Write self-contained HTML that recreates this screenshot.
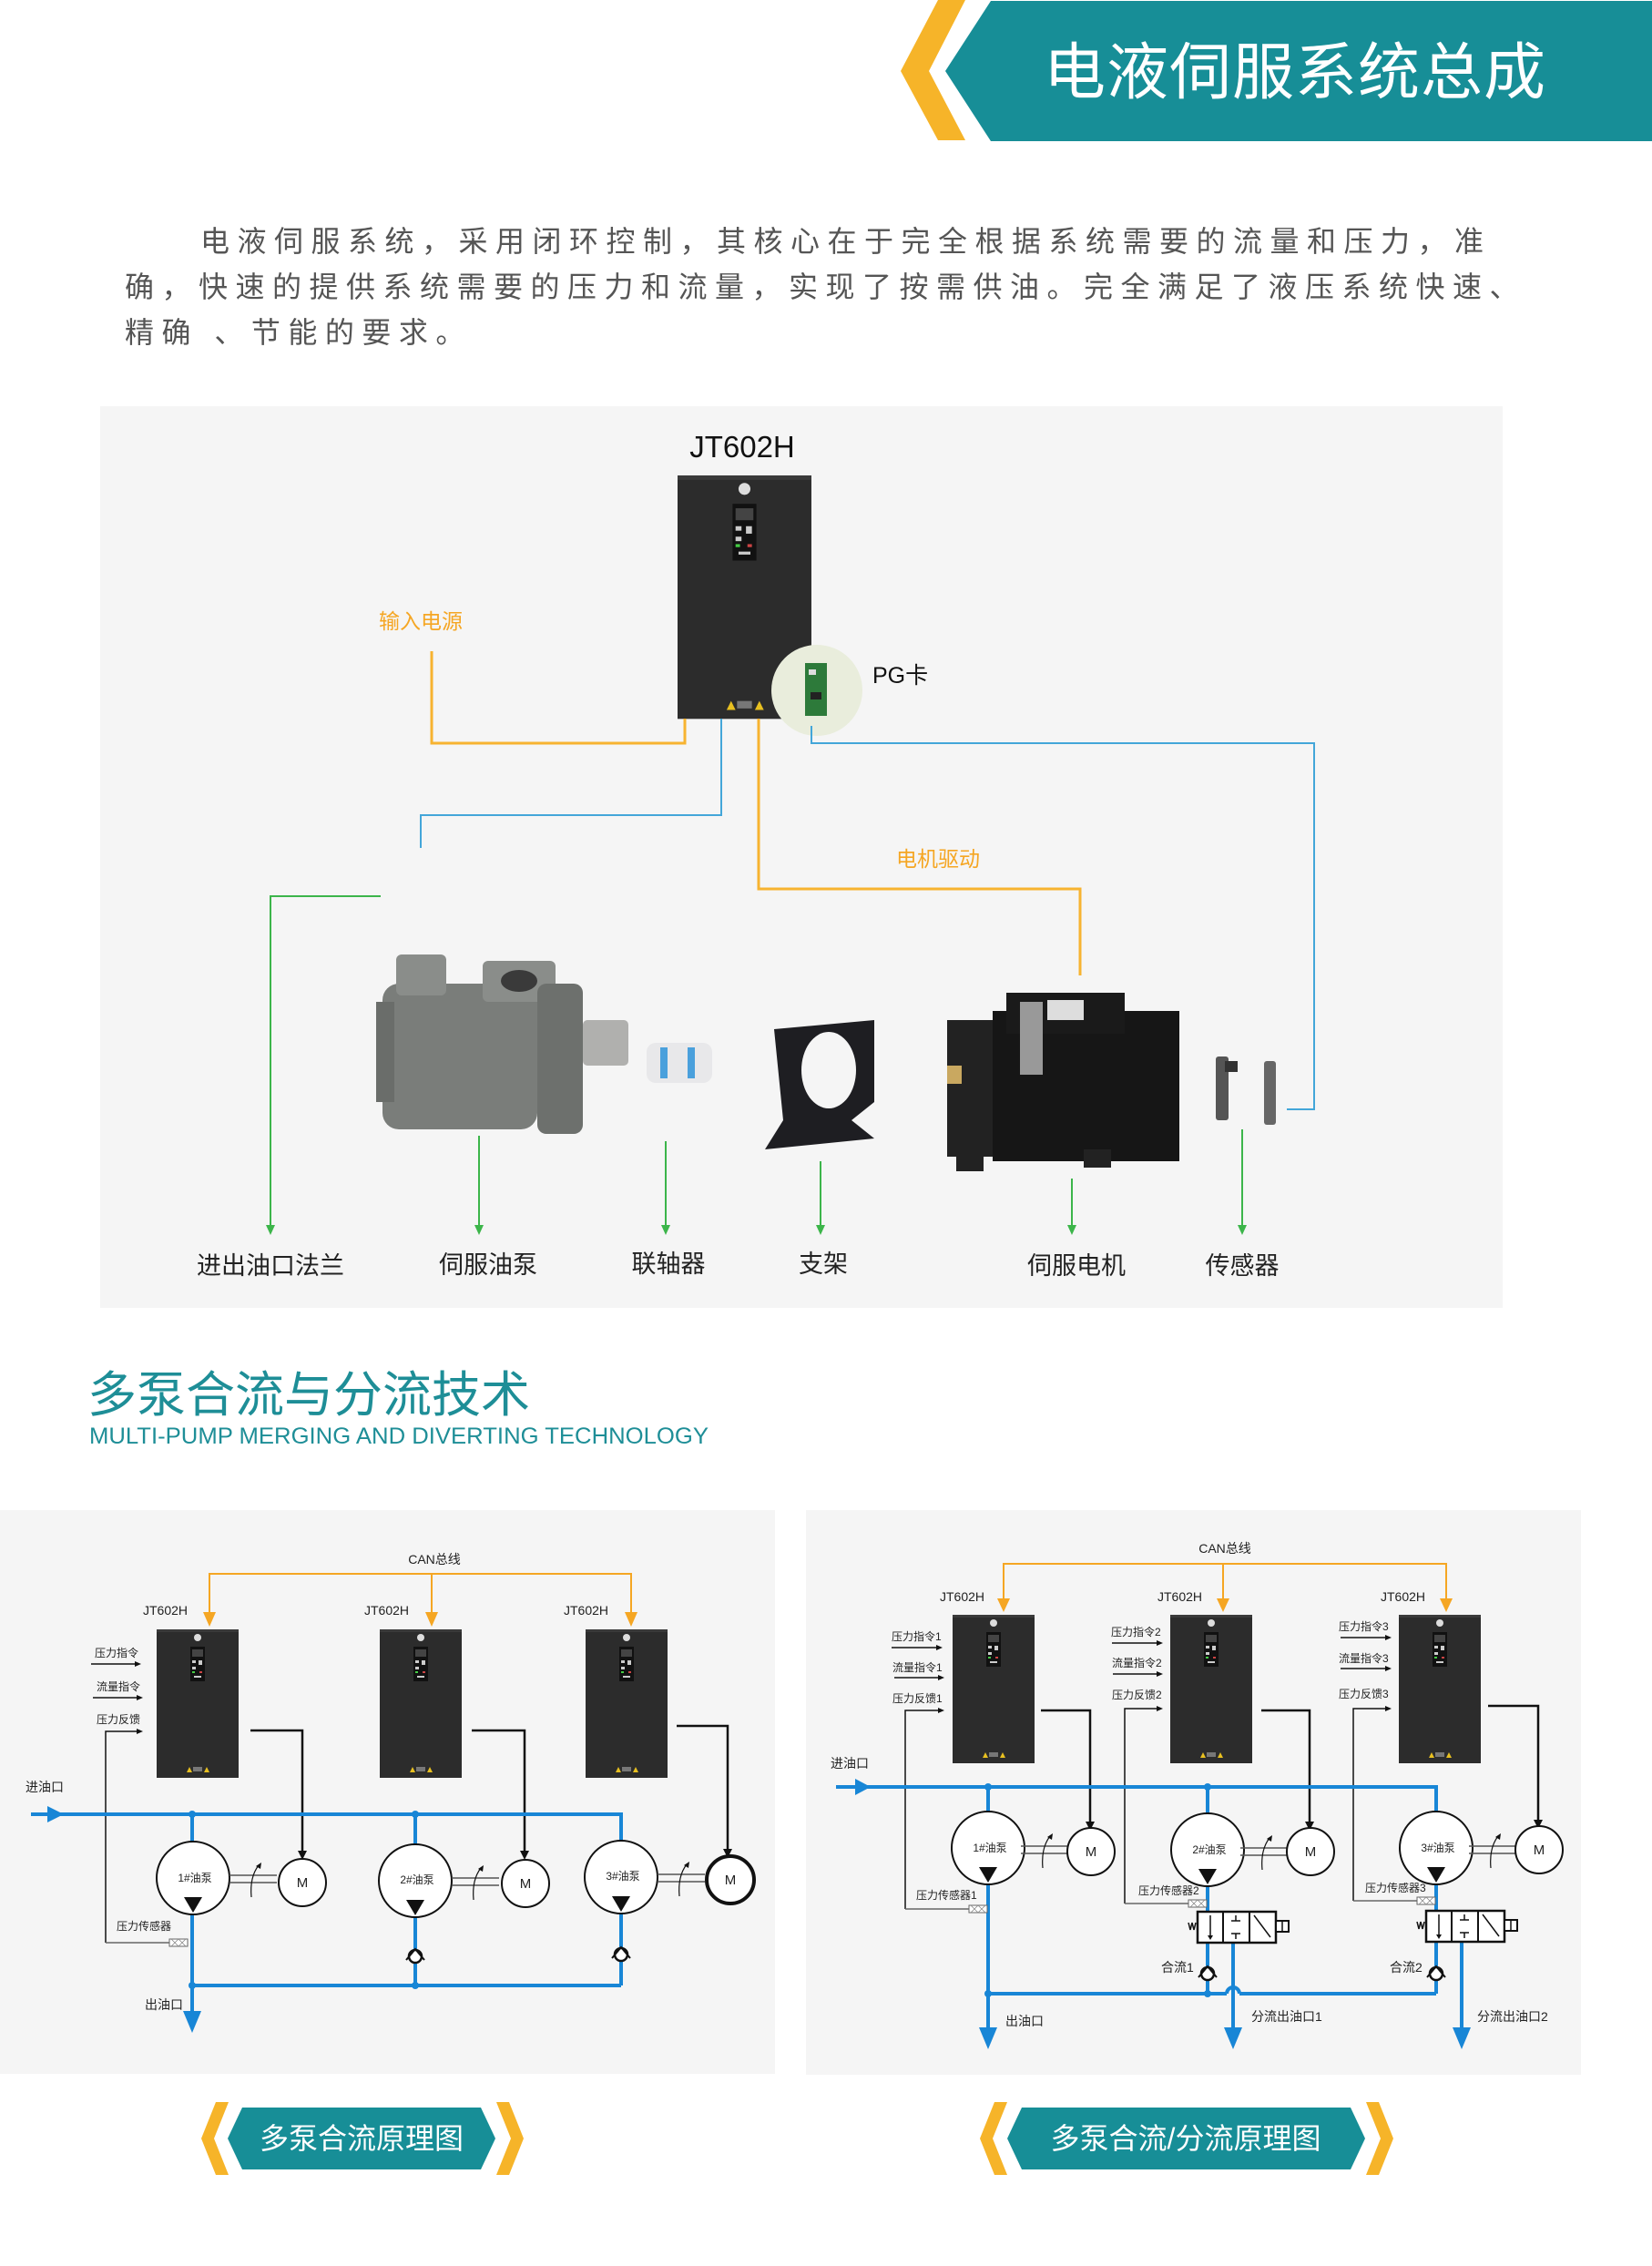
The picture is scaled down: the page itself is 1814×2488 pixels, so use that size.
<!DOCTYPE html>
<html><head><meta charset="utf-8"><style>
html,body{margin:0;padding:0;background:#fff;}
svg{display:block}
text{font-family:"Liberation Sans","Noto Sans CJK SC",sans-serif}
</style></head><body>
<svg width="1814" height="2488" viewBox="0 0 1814 2488" xmlns="http://www.w3.org/2000/svg">
<defs>
<g id="drv">
<rect x="0" y="0" width="90" height="163" fill="#2c2c2c"/>
<rect x="0" y="0" width="90" height="3" fill="#3a3a3a"/>
<circle cx="45" cy="9" r="4" fill="#ddd"/>
<rect x="37" y="19" width="16" height="38" fill="#111"/>
<rect x="39" y="22" width="12" height="8" fill="#444"/>
<rect x="39" y="34" width="4" height="3" fill="#ccc"/><rect x="46" y="34" width="4" height="5" fill="#ccc"/>
<rect x="39" y="41" width="4" height="3" fill="#ccc"/><rect x="39" y="46" width="3" height="2" fill="#4c4"/><rect x="47" y="46" width="3" height="2" fill="#c44"/>
<rect x="41" y="51" width="8" height="2" fill="#ccc"/>
<polygon points="33,157 36,151 39,157" fill="#e8c020"/><polygon points="52,157 55,151 58,157" fill="#e8c020"/>
<rect x="40" y="151" width="10" height="5" fill="#777"/>
</g>
<g id="pump">
<circle cx="0" cy="0" r="40" fill="#fff" stroke="#111" stroke-width="2"/>
<polygon points="-10,21 10,21 0,38" fill="#111"/>
</g>
<g id="mot">
<circle cx="0" cy="0" r="26" fill="#fff" stroke="#111" stroke-width="2"/>
</g>
<g id="shaft">
<line x1="0" y1="-4" x2="52" y2="-4" stroke="#555" stroke-width="1.5"/>
<line x1="0" y1="4" x2="52" y2="4" stroke="#555" stroke-width="1.5"/>
<path d="M24 20 Q22 -2 32 -15" fill="none" stroke="#111" stroke-width="1.2"/>
<polygon points="29,-14 35,-18 34,-11" fill="#111"/>
</g>
<g id="chk">
<circle cx="0" cy="0" r="7" fill="#fff" stroke="#111" stroke-width="2.5"/>
<path d="M-10 4 L0 -8 L10 4" fill="none" stroke="#111" stroke-width="2"/>
</g>
<g id="sens">
<rect x="0" y="-4" width="20" height="8" fill="#fff" stroke="#666" stroke-width="1"/>
<path d="M2 -4 L10 4 M10 -4 L2 4 M10 -4 L18 4 M18 -4 L10 4" stroke="#888" stroke-width="0.8"/>
</g>
<g id="valve">
<rect x="0" y="0" width="86" height="34" fill="#fff" stroke="#111" stroke-width="2.5"/>
<line x1="28" y1="0" x2="28" y2="34" stroke="#111" stroke-width="2"/>
<line x1="57" y1="0" x2="57" y2="34" stroke="#111" stroke-width="2"/>
<line x1="14" y1="4" x2="14" y2="28" stroke="#111" stroke-width="1.5"/><polygon points="11,26 17,26 14,31" fill="#111"/>
<path d="M37 10 H47 M42 4 V10 M37 24 H47 M42 24 V30" stroke="#111" stroke-width="1.5"/>
<line x1="62" y1="4" x2="80" y2="28" stroke="#111" stroke-width="1.5"/>
<path d="M-10 12 l2 8 l2 -8 l2 8 l2 -8" fill="none" stroke="#111" stroke-width="1.5"/>
<rect x="86" y="10" width="14" height="12" fill="#fff" stroke="#111" stroke-width="2"/>
<line x1="93" y1="10" x2="93" y2="22" stroke="#111" stroke-width="1.5"/>
</g>
</defs>

<!-- header -->
<polygon points="1030,0 1060,0 1020,78 1060,154 1030,154 989,78" fill="#f6b429"/>
<polygon points="1088,1 1814,1 1814,155 1088,155 1038,78" fill="#178e97"/>
<text x="1146" y="103" font-size="68" fill="#fff" letter-spacing="1">电液伺服系统总成</text>

<!-- paragraph -->
<g font-size="32" fill="#555" letter-spacing="8.5">
<text x="220" y="276">电液伺服系统，采用闭环控制，其核心在于完全根据系统需要的流量和压力，准</text>
<text x="137" y="326">确，快速的提供系统需要的压力和流量，实现了按需供油。完全满足了液压系统快速、</text>
<text x="137" y="376">精确 、节能的要求。</text>
</g>

<!-- panel 1 -->
<rect x="110" y="446" width="1540" height="990" fill="#f5f5f5"/>
<text x="815" y="502" font-size="33" fill="#111" text-anchor="middle">JT602H</text>
<use href="#drv" transform="translate(744,522) scale(1.633,1.64)"/>
<circle cx="897" cy="758" r="50" fill="#e9eddc"/>
<rect x="884" y="728" width="24" height="58" fill="#2d7a3a"/>
<rect x="888" y="735" width="8" height="6" fill="#ddd"/><rect x="890" y="760" width="12" height="8" fill="#222"/>
<text x="958" y="750" font-size="25" fill="#111">PG卡</text>
<text x="416" y="690" font-size="23" fill="#f5a623">输入电源</text>
<text x="984" y="951" font-size="23" fill="#f5a623">电机驱动</text>
<g fill="none" stroke-width="3">
<path d="M474 715 V816 H752 V789" stroke="#f7b330"/>
<path d="M833 789 V976 H1186 V1071" stroke="#f7b330"/>
</g>
<g fill="none" stroke="#43a6d9" stroke-width="2">
<path d="M792 789 V895 H462 V931"/>
<path d="M891 797 V816 H1443 V1218 H1413"/>
</g>
<g fill="none" stroke="#3cb54a" stroke-width="2">
<path d="M418 984 H297 V1348"/>
<path d="M526 1247 V1348 M731 1253 V1348 M901 1275 V1348 M1177 1294 V1348 M1364 1240 V1348"/>
</g>
<g fill="#3cb54a">
<polygon points="292,1345 302,1345 297,1356"/><polygon points="521,1345 531,1345 526,1356"/><polygon points="726,1345 736,1345 731,1356"/>
<polygon points="896,1345 906,1345 901,1356"/><polygon points="1172,1345 1182,1345 1177,1356"/><polygon points="1359,1345 1369,1345 1364,1356"/>
</g>
<!-- product pictures -->
<g>
<rect x="420" y="1080" width="170" height="160" rx="18" fill="#7a7d7a"/>
<rect x="435" y="1048" width="55" height="45" rx="6" fill="#8a8d8a"/>
<rect x="530" y="1055" width="80" height="45" rx="6" fill="#8a8d8a"/>
<ellipse cx="570" cy="1077" rx="20" ry="12" fill="#3a3a3a"/>
<rect x="590" y="1080" width="50" height="165" rx="10" fill="#6d706d"/>
<rect x="640" y="1120" width="50" height="50" rx="5" fill="#b0b0ae"/>
<rect x="413" y="1100" width="20" height="110" fill="#6a6d6a"/>
<rect x="710" y="1145" width="72" height="44" rx="10" fill="#e8e8ea"/>
<rect x="725" y="1150" width="8" height="34" fill="#4aa0dc"/><rect x="755" y="1150" width="8" height="34" fill="#4aa0dc"/>
<path d="M850 1130 L960 1120 L960 1210 L935 1230 L960 1250 L840 1262 L860 1230 Z" fill="#1e1e22"/>
<ellipse cx="910" cy="1175" rx="30" ry="42" fill="#f5f5f5"/>
<rect x="1040" y="1120" width="60" height="150" fill="#222"/>
<rect x="1090" y="1110" width="205" height="165" fill="#161616"/>
<rect x="1105" y="1090" width="130" height="45" fill="#1a1a1a"/>
<rect x="1150" y="1098" width="40" height="22" fill="#ddd"/>
<rect x="1120" y="1100" width="25" height="80" fill="#999"/>
<rect x="1050" y="1258" width="30" height="28" fill="#222"/><rect x="1190" y="1262" width="30" height="20" fill="#222"/>
<rect x="1040" y="1170" width="16" height="20" fill="#c9a860"/>
<rect x="1335" y="1160" width="14" height="70" rx="3" fill="#555"/><rect x="1345" y="1165" width="14" height="12" fill="#333"/>
<rect x="1388" y="1165" width="13" height="70" rx="3" fill="#666"/>
</g>
<g font-size="27" fill="#222" text-anchor="middle">
<text x="297" y="1399">进出油口法兰</text><text x="536" y="1398">伺服油泵</text><text x="734" y="1397">联轴器</text>
<text x="904" y="1397">支架</text><text x="1182" y="1399">伺服电机</text><text x="1364" y="1399">传感器</text>
</g>

<!-- section 2 title -->
<text x="96" y="1550" font-size="54" fill="#1e8e97">多泵合流与分流技术</text>
<text x="98" y="1585" font-size="25" fill="#1e8e97" textLength="680" lengthAdjust="spacingAndGlyphs">MULTI-PUMP MERGING AND DIVERTING TECHNOLOGY</text>

<!-- left diagram -->
<rect x="0" y="1658" width="851" height="619" fill="#f5f5f5"/>
<g font-size="14" fill="#222">
<text x="477" y="1717" text-anchor="middle">CAN总线</text>
<text x="157" y="1773">JT602H</text><text x="400" y="1773">JT602H</text><text x="619" y="1773">JT602H</text>
<text x="104" y="1819" font-size="12">压力指令</text><text x="106" y="1856" font-size="12">流量指令</text><text x="106" y="1892" font-size="12">压力反馈</text>
<text x="28" y="1967" font-size="14">进油口</text><text x="159" y="2206" font-size="14">出油口</text>
<text x="128" y="2119" font-size="12">压力传感器</text>
</g>
<path d="M230 1778 V1728 H693 V1778 M474 1728 V1778" fill="none" stroke="#f5a623" stroke-width="2"/>
<g fill="#f5a623"><polygon points="223,1770 237,1770 230,1786"/><polygon points="467,1770 481,1770 474,1786"/><polygon points="686,1770 700,1770 693,1786"/></g>
<use href="#drv" x="172" y="1789"/><use href="#drv" x="417" y="1789"/><use href="#drv" x="643" y="1789"/>
<g stroke="#111" stroke-width="1.5" fill="none"><path d="M100 1827 H150 M102 1864 H152 M116 2133 V1901 H152"/></g>
<g fill="#111"><polygon points="148,1824 155,1827 148,1830"/><polygon points="150,1861 157,1864 150,1867"/><polygon points="150,1898 157,1901 150,1904"/></g>
<path d="M116 2133 H186" stroke="#666" stroke-width="1.5"/>
<g stroke="#111" stroke-width="2.5" fill="none"><path d="M275 1900 H332 V2036 M518 1900 H576 V2036 M743 1895 H799 V2034"/></g>
<g fill="#111"><polygon points="327,2032 337,2032 332,2042"/><polygon points="571,2032 581,2032 576,2042"/><polygon points="794,2030 804,2030 799,2040"/></g>
<g stroke="#1886d6" stroke-width="4" fill="none">
<path d="M34 1992 H682 V2025 M211 1992 V2025 M456 1992 V2025"/>
<path d="M211 2100 V2212 M456 2100 V2180 M682 2100 V2180 M211 2180 H682"/>
</g>
<polygon points="52,1983 70,1992 52,2001" fill="#1886d6"/>
<polygon points="201,2208 221,2208 211,2232" fill="#1886d6"/>
<g fill="#1886d6"><circle cx="211" cy="1992" r="4"/><circle cx="456" cy="1992" r="4"/><circle cx="211" cy="2180" r="4"/><circle cx="456" cy="2180" r="4"/></g>
<use href="#pump" x="212" y="2062"/><use href="#pump" x="456" y="2065"/><use href="#pump" x="682" y="2061"/>
<use href="#shaft" x="252" y="2063"/><use href="#shaft" x="496" y="2066"/><use href="#shaft" x="722" y="2062"/>
<use href="#mot" x="332" y="2067"/><use href="#mot" x="577" y="2068"/>
<circle cx="802" cy="2064" r="26" fill="#fff" stroke="#111" stroke-width="4"/>
<use href="#chk" x="456" y="2148"/><use href="#chk" x="682" y="2146"/>
<use href="#sens" x="186" y="2133"/>
<g font-size="12" fill="#222" text-anchor="middle">
<text x="214" y="2066">1#油泵</text><text x="458" y="2068">2#油泵</text><text x="684" y="2064">3#油泵</text>
</g>
<g font-size="15" fill="#222" text-anchor="middle">
<text x="332" y="2072">M</text><text x="577" y="2073">M</text><text x="802" y="2069">M</text>
</g>

<!-- right diagram -->
<rect x="885" y="1658" width="851" height="620" fill="#f5f5f5"/>
<g font-size="14" fill="#222">
<text x="1345" y="1705" text-anchor="middle">CAN总线</text>
<text x="1032" y="1758">JT602H</text><text x="1271" y="1758">JT602H</text><text x="1516" y="1758">JT602H</text>
<text x="912" y="1941">进油口</text><text x="1104" y="2224">出油口</text>
<text x="1374" y="2219">分流出油口1</text><text x="1622" y="2219">分流出油口2</text>
<text x="1275" y="2165">合流1</text><text x="1526" y="2165">合流2</text>
</g>
<g font-size="12" fill="#222">
<text x="979" y="1801">压力指令1</text><text x="980" y="1835">流量指令1</text><text x="980" y="1869">压力反馈1</text>
<text x="1220" y="1796">压力指令2</text><text x="1221" y="1830">流量指令2</text><text x="1221" y="1865">压力反馈2</text>
<text x="1470" y="1790">压力指令3</text><text x="1470" y="1825">流量指令3</text><text x="1470" y="1864">压力反馈3</text>
<text x="1006" y="2085">压力传感器1</text><text x="1250" y="2080">压力传感器2</text><text x="1499" y="2077">压力传感器3</text>
</g>
<path d="M1102 1762 V1717 H1588 V1762 M1343 1717 V1762" fill="none" stroke="#f5a623" stroke-width="2"/>
<g fill="#f5a623"><polygon points="1095,1755 1109,1755 1102,1770"/><polygon points="1336,1755 1350,1755 1343,1770"/><polygon points="1581,1755 1595,1755 1588,1770"/></g>
<use href="#drv" x="1046" y="1773"/><use href="#drv" x="1285" y="1773"/><use href="#drv" x="1536" y="1773"/>
<g stroke="#111" stroke-width="1.5" fill="none">
<path d="M979 1809 H1030 M982 1842 H1032 M994 2096 V1878 H1032"/>
<path d="M1221 1804 H1272 M1222 1838 H1272 M1235 2090 V1876 H1272"/>
<path d="M1472 1798 H1523 M1472 1832 H1523 M1486 2087 V1876 H1523"/>
</g>
<g fill="#111">
<polygon points="1028,1806 1035,1809 1028,1812"/><polygon points="1030,1839 1037,1842 1030,1845"/><polygon points="1030,1875 1037,1878 1030,1881"/>
<polygon points="1270,1801 1277,1804 1270,1807"/><polygon points="1270,1835 1277,1838 1270,1841"/><polygon points="1270,1873 1277,1876 1270,1879"/>
<polygon points="1521,1795 1528,1798 1521,1801"/><polygon points="1521,1829 1528,1832 1521,1835"/><polygon points="1521,1873 1528,1876 1521,1879"/>
</g>
<path d="M994 2096 H1064 M1235 2090 H1306 M1486 2087 H1556" stroke="#666" stroke-width="1.5"/>
<g stroke="#111" stroke-width="2.5" fill="none"><path d="M1143 1878 H1197 V2003 M1385 1878 H1438 V2003 M1634 1873 H1689 V2001"/></g>
<g fill="#111"><polygon points="1192,2000 1202,2000 1197,2010"/><polygon points="1433,2000 1443,2000 1438,2010"/><polygon points="1684,1998 1694,1998 1689,2008"/></g>
<g stroke="#1886d6" stroke-width="4" fill="none">
<path d="M918 1962 H1577 V1993 M1085 1962 V1993 M1326 1962 V1995"/>
<path d="M1085 2066 V2230 M1085 2189 H1347 M1347 2189 a7 7 0 0 1 14 0 M1361 2189 H1577"/>
<path d="M1326 2067 V2189 M1577 2066 V2189"/>
<path d="M1354 2133 V2230 M1605 2133 V2230"/>
</g>
<g fill="#1886d6">
<polygon points="939,1953 956,1962 939,1971"/>
<polygon points="1075,2226 1095,2226 1085,2250"/><polygon points="1344,2226 1364,2226 1354,2250"/><polygon points="1595,2226 1615,2226 1605,2250"/>
<circle cx="1085" cy="1962" r="4"/><circle cx="1326" cy="1962" r="4"/><circle cx="1085" cy="2189" r="4"/><circle cx="1326" cy="2189" r="4"/>
</g>
<use href="#valve" x="1315" y="2099"/><use href="#valve" x="1566" y="2098"/>
<use href="#pump" x="1085" y="2029"/><use href="#pump" x="1326" y="2031"/><use href="#pump" x="1577" y="2029"/>
<use href="#shaft" x="1121" y="2031"/><use href="#shaft" x="1362" y="2033"/><use href="#shaft" x="1613" y="2031"/>
<use href="#mot" x="1198" y="2033"/><use href="#mot" x="1439" y="2033"/><use href="#mot" x="1690" y="2031"/>
<use href="#chk" x="1326" y="2167"/><use href="#chk" x="1577" y="2167"/>
<use href="#sens" x="1064" y="2096"/><use href="#sens" x="1305" y="2090"/><use href="#sens" x="1556" y="2087"/>
<g font-size="12" fill="#222" text-anchor="middle">
<text x="1087" y="2033">1#油泵</text><text x="1328" y="2035">2#油泵</text><text x="1579" y="2033">3#油泵</text>
</g>
<g font-size="15" fill="#222" text-anchor="middle">
<text x="1198" y="2038">M</text><text x="1439" y="2038">M</text><text x="1690" y="2036">M</text>
</g>

<!-- badges -->
<polygon points="237,2308 251,2308 235,2348 251,2388 237,2388 221,2348" fill="#f6b429"/>
<polygon points="266,2314 528,2314 544,2348 528,2382 266,2382 250,2348" fill="#178e97"/>
<polygon points="545,2308 559,2308 575,2348 559,2388 545,2388 561,2348" fill="#f6b429"/>
<text x="397" y="2359" font-size="32" fill="#fff" text-anchor="middle">多泵合流原理图</text>
<polygon points="1092,2308 1106,2308 1090,2348 1106,2388 1092,2388 1076,2348" fill="#f6b429"/>
<polygon points="1122,2314 1483,2314 1499,2348 1483,2382 1122,2382 1106,2348" fill="#178e97"/>
<polygon points="1500,2308 1514,2308 1530,2348 1514,2388 1500,2388 1516,2348" fill="#f6b429"/>
<text x="1302" y="2359" font-size="32" fill="#fff" text-anchor="middle">多泵合流/分流原理图</text>
</svg>
</body></html>
